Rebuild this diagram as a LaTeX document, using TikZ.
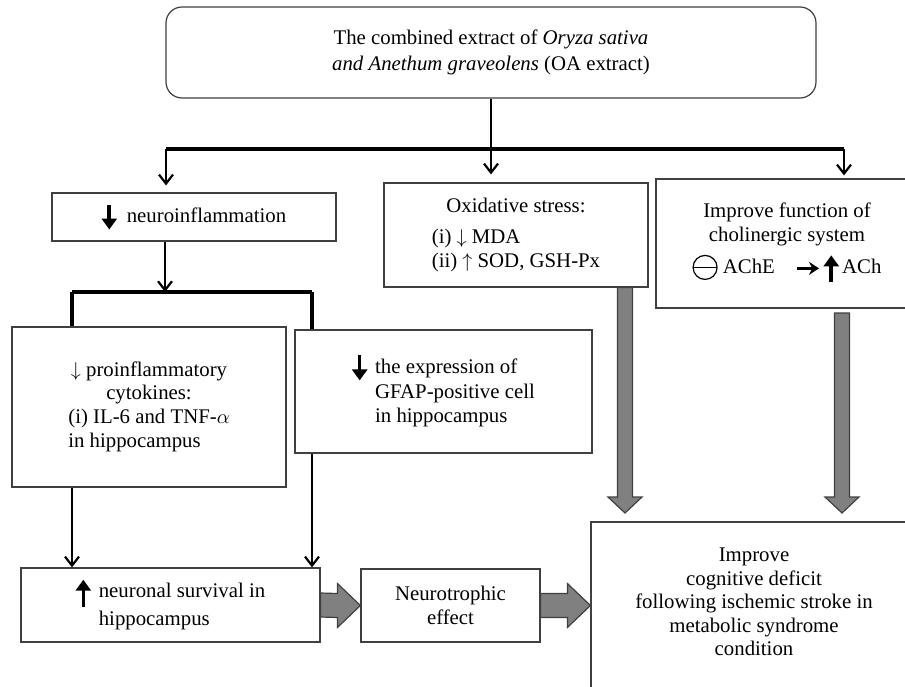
\documentclass[tikz,border=0pt]{standalone}
\usepackage{fontspec}
\setmainfont{Liberation Serif}
\usetikzlibrary{arrows.meta,calc}

\tikzset{
  box/.style={draw=black!75, line width=0.6pt, fill=white, inner sep=0pt,
    align=center, font=\fontsize{10.4pt}{11.8pt}\selectfont},
  txt/.style={inner sep=0pt, align=center, font=\fontsize{10.4pt}{11.8pt}\selectfont},
  size/.style 2 args={minimum width=#1*0.5pt, minimum height=#2*0.5pt},
  link/.style={line width=1.1pt},
  bus/.style={line width=1.7pt},
  fat/.style={fill=black!50, draw=black!75, line width=0.6pt, line join=miter}
}

% thick arrow signs used inside the texts
\newcommand{\dnarr}{\tikz[baseline=-0.5ex]\draw[line width=1.8pt,-{Triangle[length=5.5pt,width=7.5pt]}] (0,6.5pt) -- (0,-6pt);}
\newcommand{\uparr}{\tikz[baseline=-0.5ex]\draw[line width=1.8pt,-{Triangle[length=5.5pt,width=7.5pt]}] (0,-7pt) -- (0,6.5pt);}
\newcommand{\boldto}{\tikz[baseline=-0.5ex]\draw[line width=1.3pt,-{Stealth[length=5pt,width=6.5pt]}] (0,0) -- (11pt,0);}
\newcommand{\inhib}{\tikz[baseline=-0.6ex]{\draw[line width=0.6pt] (0,0) circle (6pt); \draw[line width=0.6pt] (-6pt,0) -- (6pt,0);}}

% broad gray arrows
\newcommand{\fatdown}[2]{\draw[fat] ($(#1)+(-7.5,0)$) -- ($(#2)+(-7.5,-16)$) -- ($(#2)+(-17,-16)$) -- (#2)
  -- ($(#2)+(17,-16)$) -- ($(#2)+(7.5,-16)$) -- ($(#1)+(7.5,0)$) -- cycle;}
\newcommand{\fatright}[2]{\draw[fat] ($(#1)+(0,-12)$) -- ($(#2)+(-23,-12)$) -- ($(#2)+(-23,-22)$) -- (#2)
  -- ($(#2)+(-23,22)$) -- ($(#2)+(-23,12)$) -- ($(#1)+(0,12)$) -- cycle;}

\begin{document}
\begin{tikzpicture}[x=0.5pt,y=-0.5pt,>={Straight Barb[length=4.5pt,width=7pt]}]
\useasboundingbox (0,0) rectangle (905,686);
\clip (0,0) rectangle (905,686);
%%%BOXES
\node[box, rounded corners=8pt, size={650}{91}] (extract) at (491,52.5)
  {The combined extract of \textit{Oryza sativa}\\[1pt] \textit{and Anethum graveolens} (OA extract)};
\node[box, size={284}{48}] (neuro) at (194,217) {\dnarr\hspace{5pt}neuroinflammation};
\node[box, size={264}{104}] (oxid) at (516,235)
  {\begin{tabular}{@{}l@{}}\multicolumn{1}{@{}c@{}}{Oxidative stress:}\\[4pt]
   (i) $\downarrow$ MDA\\ (ii) $\uparrow$ SOD, GSH-Px\end{tabular}};
\node[box, size={262}{129}] (chol) at (787,243.5)
  {Improve function of\\ cholinergic system\\[3pt] \inhib\ AChE\quad\boldto\,\uparr\,ACh};
\node[box, size={274}{160}] (cyto) at (149,407)
  {\begin{tabular}{@{}l@{}}\multicolumn{1}{@{}c@{}}{$\downarrow$ proinflammatory}\\
   \multicolumn{1}{@{}c@{}}{cytokines:}\\ (i) IL-6 and TNF-$\alpha$\\ in hippocampus\end{tabular}};
\node[box, size={297}{123}] (gfap) at (443.5,391.5)
  {\begin{tabular}{@{}c@{\hspace{4pt}}l@{}}\dnarr & the expression of\\ & GFAP-positive cell\\
   & in hippocampus\end{tabular}};
\node[box, size={299}{74}] (survival) at (170.5,605)
  {\begin{tabular}{@{}c@{\hspace{4pt}}l@{}}\uparr & neuronal survival in\\ & hippocampus\end{tabular}};
\node[box, size={179}{73}] (trophic) at (450.5,605.5) {Neurotrophic\\ effect};
\node[box, size={326}{178}] (goal) at (754,611) {};
\node[txt] (goaltext) at (754,602)
  {Improve\\ cognitive deficit\\ following ischemic stroke in\\ metabolic syndrome\\ condition};

%%%CONNECTORS
\coordinate (busL) at (166,149);
\coordinate (busR) at (844,149);
\coordinate (split) at (165,292);
\coordinate (splitL) at (72,292);
\coordinate (splitR) at (312,292);
\draw[link,->,shorten >=4pt] (extract.south) -- (extract.south |- oxid.north);
\draw[bus] (busL) -- (busR);
\draw[link,->,shorten >=3.5pt] (busL) -- (busL |- neuro.north);
\draw[link,->,shorten >=1.5pt] (busR) -- (busR |- chol.north);
\draw[link,->] (split |- neuro.south) -- (split);
\draw[bus] (splitL) -- (splitR);
\draw[bus] (splitL) -- (splitL |- cyto.north);
\draw[bus] (splitR) -- (splitR |- gfap.north);
\draw[link,->] (splitL |- cyto.south) -- (splitL |- survival.north);
\draw[link,->] (splitR |- gfap.south) -- (splitR |- survival.north);

%%%GRAY ARROWS
\coordinate (tipA) at (625,513);
\coordinate (tailB) at (842,313);
\coordinate (tipB) at (842,513);
\fatdown{oxid.south -| tipA}{tipA}
\fatdown{tailB}{tipB}
\fatright{survival.east}{trophic.west}
\fatright{trophic.east}{trophic.east -| goal.west}
\end{tikzpicture}
\end{document}
